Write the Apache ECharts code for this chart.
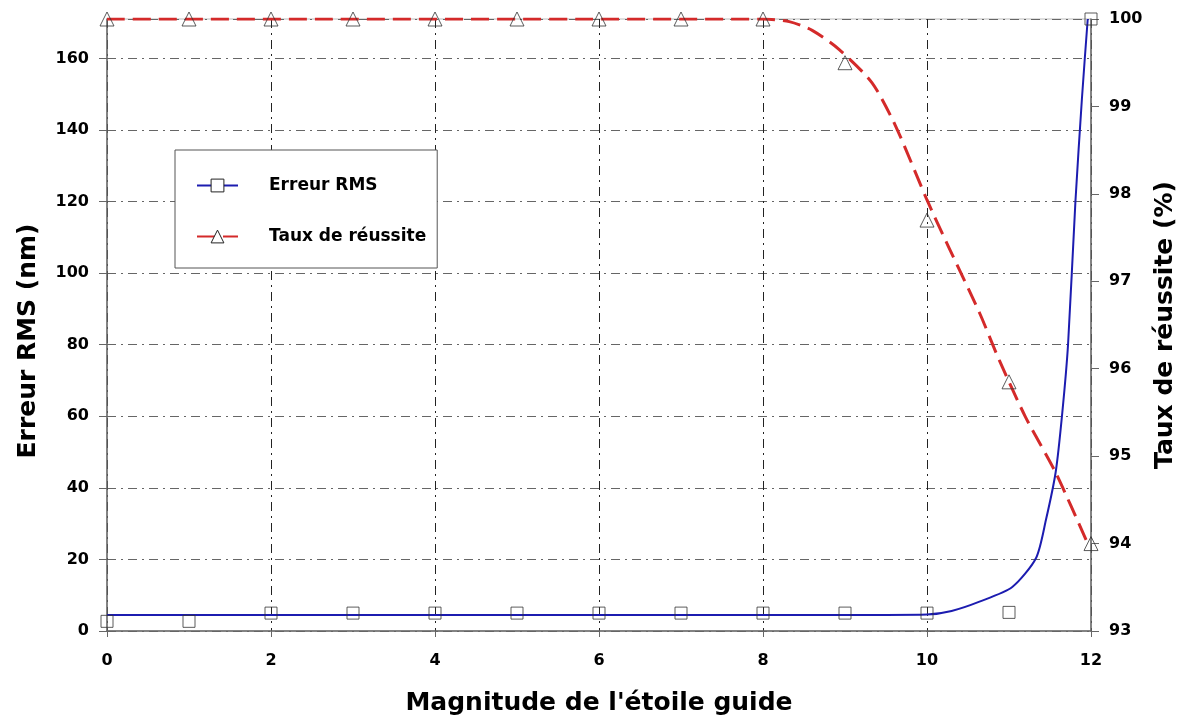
<!DOCTYPE html>
<html>
<head>
<meta charset="utf-8">
<script src="https://cdn.jsdelivr.net/npm/echarts@6/dist/echarts.min.js"></script>
<style>
html, body { margin: 0; padding: 0; background: #fff; }
#chart { width: 1194px; height: 722px; }
</style>
</head>
<body>
<div id="chart"></div>
<script>
// measured points
var magnitudes = [0, 1, 2, 3, 4, 5, 6, 7, 8, 9, 10, 11, 12];
var rmsMeasured = [2.7, 2.7, 5, 5, 5, 5, 5, 5, 5, 5, 5, 5.2, 171];
var successMeasured = [100, 100, 100, 100, 100, 100, 100, 100, 100, 99.5, 97.7, 95.85, 94];

// fitted curves
var rmsCurveX = [0, 9.5, 10, 10.3, 10.64, 11.04, 11.33, 11.45, 11.57, 11.65, 11.72, 11.81, 11.89, 11.96];
var rmsCurveY = [4.5, 4.5, 4.6, 5.6, 8.2, 12.3, 20.4, 31, 44.5, 61, 80, 120, 149, 171];
var successCurveX = [0, 8, 8.32, 8.6, 8.93, 9.33, 9.62, 10, 10.27, 10.64, 10.88, 11.2, 11.57, 11.95];
var successCurveY = [100, 100, 99.97, 99.87, 99.65, 99.27, 98.77, 97.93, 97.38, 96.64, 96.1, 95.45, 94.81, 94.02];

var xTicks = [0, 2, 4, 6, 8, 10, 12];

function pairs(xs, ys) {
    return xs.map(function (x, i) { return [x, ys[i]]; });
}

var font = 'DejaVu Sans, Liberation Sans, sans-serif';
var dom = document.getElementById('chart');
var myChart = echarts.init(dom, null, { renderer: 'canvas' });

var option = {
    backgroundColor: '#fff',
    animation: false,
    grid: {
        left: 107, right: 103, top: 19, bottom: 91,
        show: true, borderColor: '#bbb', borderWidth: 1
    },
    legend: {
        left: 175, top: 150,
        orient: 'vertical',
        padding: [27, 11, 23, 21],
        itemGap: 34,
        itemWidth: 41,
        itemHeight: 16,
        borderColor: '#555',
        borderWidth: 1,
        backgroundColor: '#fff',
        itemStyle: { color: '#fff', borderColor: '#222', borderWidth: 1 },
        textStyle: { fontFamily: font, fontWeight: 'bold', fontSize: 17, color: '#000', padding: [0, 0, 0, 26] },
        data: ['Erreur RMS', 'Taux de réussite']
    },
    xAxis: {
        type: 'value',
        min: 0, max: 12, interval: 2,
        name: "Magnitude de l'étoile guide",
        nameLocation: 'middle',
        nameGap: 60,
        nameTextStyle: { fontFamily: font, fontWeight: 'bold', fontSize: 25, color: '#000' },
        axisLine: { lineStyle: { color: '#666', width: 1.5 } },
        axisTick: { show: true, length: 6, lineStyle: { color: '#666' } },
        axisLabel: {
            margin: 22, fontFamily: font, fontWeight: 'bold', fontSize: 16, color: '#000',
            formatter: function (v) { return xTicks.indexOf(v) >= 0 ? String(v) : ''; }
        },
        splitLine: { show: true, lineStyle: { color: '#222', width: 1, type: [9, 5, 2, 5] } }
    },
    yAxis: [
        {
            type: 'value',
            min: 0, max: 171, interval: 20,
            name: 'Erreur RMS (nm)',
            nameLocation: 'middle',
            nameGap: 66,
            nameRotate: 90,
            nameTextStyle: { fontFamily: font, fontWeight: 'bold', fontSize: 25, color: '#000', padding: [0, 32, 0, 0] },
            axisLine: { show: true, lineStyle: { color: '#666', width: 1.5 } },
            axisTick: { show: true, length: 8, lineStyle: { color: '#666' } },
            axisLabel: { margin: 18, showMaxLabel: false, fontFamily: font, fontWeight: 'bold', fontSize: 16, color: '#000' },
            splitLine: { show: true, lineStyle: { color: '#666', width: 1, type: [9, 5, 2, 5] } }
        },
        {
            type: 'value',
            min: 93, max: 100, interval: 1,
            name: 'Taux de réussite (%)',
            nameLocation: 'middle',
            nameGap: 62,
            nameRotate: 90,
            nameTextStyle: { fontFamily: font, fontWeight: 'bold', fontSize: 25, color: '#000' },
            axisLine: { show: true, lineStyle: { color: '#666', width: 1.5 } },
            axisTick: { show: true, length: 8, lineStyle: { color: '#666' } },
            axisLabel: { margin: 18, fontFamily: font, fontWeight: 'bold', fontSize: 16, color: '#000' },
            splitLine: { show: false }
        }
    ],
    series: [
        {
            name: 'Erreur RMS',
            type: 'line',
            yAxisIndex: 0,
            data: pairs(rmsCurveX, rmsCurveY),
            smooth: 0.25,
            showSymbol: false,
            symbol: 'rect',
            color: '#1c1cb0',
            lineStyle: { color: '#1c1cb0', width: 2 },
            z: 4
        },
        {
            name: 'Taux de réussite',
            type: 'line',
            yAxisIndex: 1,
            data: pairs(successCurveX, successCurveY),
            smooth: 0.25,
            showSymbol: false,
            symbol: 'triangle',
            color: '#d42a2a',
            lineStyle: { color: '#d42a2a', width: 3, type: [18, 8] },
            z: 3
        },
        {
            name: 'Erreur RMS mesures',
            type: 'scatter',
            yAxisIndex: 0,
            data: pairs(magnitudes, rmsMeasured),
            symbol: 'rect',
            symbolSize: 12,
            itemStyle: { color: 'rgba(255,255,255,0)', borderColor: '#333', borderWidth: 1 },
            z: 5
        },
        {
            name: 'Taux de réussite mesures',
            type: 'scatter',
            yAxisIndex: 1,
            data: pairs(magnitudes, successMeasured),
            symbol: 'triangle',
            symbolSize: 14,
            itemStyle: { color: 'rgba(255,255,255,0)', borderColor: '#333', borderWidth: 1 },
            z: 5
        }
    ]
};

myChart.setOption(option, true);
</script>
</body>
</html>
